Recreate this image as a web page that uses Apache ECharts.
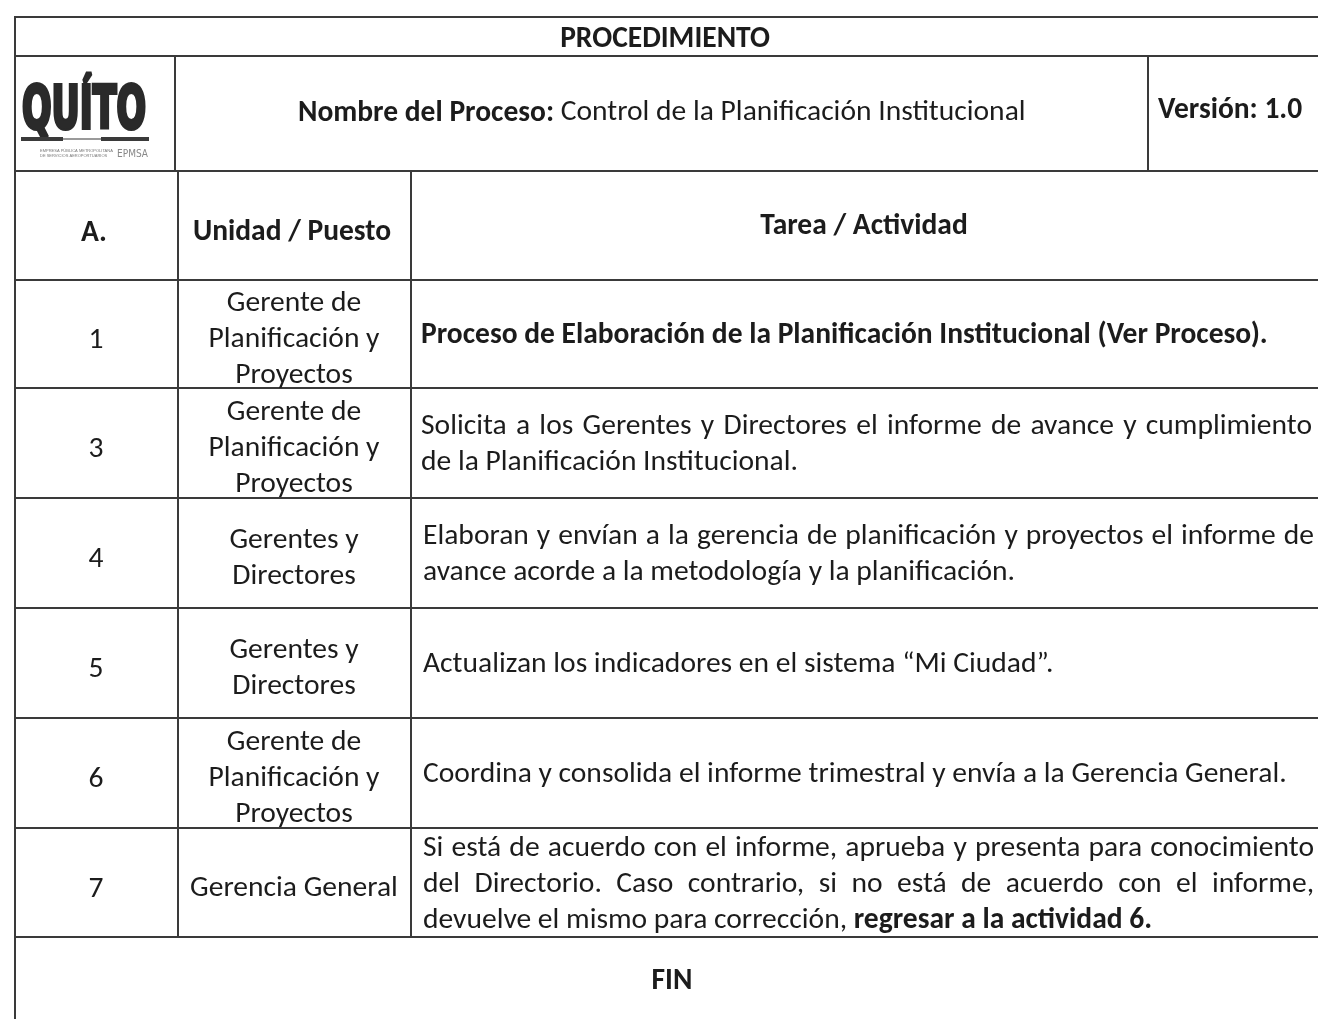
<!DOCTYPE html>
<html>
<head>
<meta charset="utf-8">
<script src="https://cdn.jsdelivr.net/npm/echarts@6/dist/echarts.min.js"></script>
<style>html,body{margin:0;padding:0;background:#fff}#c{width:1318px;height:1019px}</style>
</head>
<body>
<div id="c"></div>
<script>
// ---- content ----
const procTitle = 'PROCEDIMIENTO';
const processLabel = 'Nombre del Proceso:';
const processName = 'Control de la Planificación Institucional';
const versionLabel = 'Versión: 1.0';
const colHeaders = ['A.', 'Unidad / Puesto', 'Tarea / Actividad'];
const stepIds = ['1', '3', '4', '5', '6', '7'];
const stepUnits = [
  ['Gerente de', 'Planificación y', 'Proyectos'],
  ['Gerente de', 'Planificación y', 'Proyectos'],
  ['Gerentes y', 'Directores'],
  ['Gerentes y', 'Directores'],
  ['Gerente de', 'Planificación y', 'Proyectos'],
  ['Gerencia General']
];
const stepTasks = [
  ['**Proceso de Elaboración de la Planificación Institucional (Ver Proceso).**'],
  ['Solicita a los Gerentes y Directores el informe de avance y cumplimiento', 'de la Planificación Institucional.'],
  ['Elaboran y envían a la gerencia de planificación y proyectos el informe de', 'avance acorde a la metodología y la planificación.'],
  ['Actualizan los indicadores en el sistema “Mi Ciudad”.'],
  ['Coordina y consolida el informe trimestral y envía a la Gerencia General.'],
  ['Si está de acuerdo con el informe, aprueba y presenta para conocimiento', 'del Directorio. Caso contrario, si no está de acuerdo con el informe,', 'devuelve el mismo para corrección, **regresar a la actividad 6.**']
];
const endLabel = 'FIN';
const logoWord = 'QUÍTO';
const logoSub = ['EMPRESA PÚBLICA METROPOLITANA', 'DE SERVICIOS AEROPORTUARIOS'];
const logoTag = 'EPMSA';

// ---- layout ----
const FAMILY = 'Carlito, Lato, sans-serif';
const INK = '#1c1c1c';
const RULE = '#3a3a3a';
const ROWS = [17, 56, 171, 280, 388, 498, 608, 718, 828, 937];
const LEFT = 15, RIGHT = 1330, BOTTOM = 1030;
const X_LOGO = 175, X_VER = 1148, X_A = 178, X_UNIT = 411;
const TASK_X = 421, TASK_W = 891, LINE_H = 36, DY = 3;

const cv = document.createElement('canvas');
const ctx = cv.getContext('2d');
function measure(t, size, bold, fam) {
  ctx.font = (bold ? 'bold ' : 'normal ') + size + 'px ' + (fam || FAMILY);
  return ctx.measureText(t).width;
}
const fsR = 24 * 864 / measure(stepTasks[4][0], 24, false);
const fsB = 24 * 847 / measure(stepTasks[0][0].replace(/\*\*/g, ''), 24, true);

const els = [];
function txt(t, x, y, bold, align, extra) {
  els.push(Object.assign({
    type: 'text', silent: true,
    style: {
      text: t, x: x, y: y + DY, fill: INK,
      fontFamily: FAMILY, fontSize: bold ? fsB : fsR, fontWeight: bold ? 'bold' : 'normal',
      textAlign: align || 'left', align: align || 'left',
      textVerticalAlign: 'middle', verticalAlign: 'middle'
    }
  }, extra || {}));
}
function line(x1, y1, x2, y2, w, c) {
  els.push({ type: 'line', silent: true, shape: { x1, y1, x2, y2 }, style: { stroke: c || RULE, lineWidth: w || 2 } });
}
function parseWords(s) {
  const parts = s.split('**');
  const words = [];
  parts.forEach((p, i) => {
    p.split(' ').filter(w => w.length).forEach(w => words.push({ t: w, b: i % 2 === 1 }));
  });
  return words;
}
function textLine(s, x, y, justify) {
  const words = parseWords(s);
  const ws = words.map(w => measure(w.t, w.b ? fsB : fsR, w.b));
  const sum = ws.reduce((a, b) => a + b, 0);
  let gap = measure(' ', fsR, false);
  if (justify && words.length > 1) gap = (TASK_W - sum) / (words.length - 1);
  let cx = x;
  words.forEach((w, i) => { txt(w.t, cx, y, w.b); cx += ws[i] + gap; });
}

// rules
line(LEFT - 1, ROWS[0], RIGHT, ROWS[0]);
for (let i = 1; i < ROWS.length; i++) line(LEFT, ROWS[i], RIGHT, ROWS[i]);
line(LEFT, ROWS[0] - 1, LEFT, BOTTOM);
line(X_LOGO, ROWS[1], X_LOGO, ROWS[2]);
line(X_VER, ROWS[1], X_VER, ROWS[2]);
line(X_A, ROWS[2], X_A, ROWS[ROWS.length - 1]);
line(X_UNIT, ROWS[2], X_UNIT, ROWS[ROWS.length - 1]);

// header
txt(procTitle, 665, 37, true, 'center');
const wLab = measure(processLabel, fsB, true);
txt(processLabel, 298, 111, true);
txt(processName, 298 + wLab + measure(' ', fsR, false), 110, false);
txt(versionLabel, 1158, 108, true);
txt(colHeaders[0], 94, 231, true, 'center');
txt(colHeaders[1], 292, 230, true, 'center');
txt(colHeaders[2], 864, 224, true, 'center');

// rows
stepIds.forEach((id, r) => {
  const mid = (ROWS[3 + r] + ROWS[4 + r]) / 2;
  txt(id, 96, mid + 4, false, 'center');
  const u = stepUnits[r];
  u.forEach((s, k) => txt(s, 294, mid + 3 + (k - (u.length - 1) / 2) * LINE_H, false, 'center'));
  const t = stepTasks[r];
  t.forEach((s, k) => textLine(s, TASK_X + (r >= 2 ? 2 : 0), mid - 1 + (k - (t.length - 1) / 2) * LINE_H, k < t.length - 1));
});
txt(endLabel, 672, 979, true, 'center');

// logo
const LF = 'DejaVu Sans';
const lw = measure(logoWord, 58, true, LF);
els.push({
  type: 'text', silent: true, x: 22, y: 113, scaleX: 124 / lw, scaleY: 1,
  style: { text: logoWord, x: 0, y: 0, fill: '#2a2a2a', stroke: '#2a2a2a', lineWidth: 4,
    fontFamily: LF, fontSize: 58, fontWeight: 'bold',
    textAlign: 'left', align: 'left', textVerticalAlign: 'middle', verticalAlign: 'middle' }
});
els.push({ type: 'rect', silent: true, shape: { x: 21, y: 137, width: 42, height: 4 }, style: { fill: '#3a3a3a' } });
els.push({ type: 'rect', silent: true, shape: { x: 63, y: 138, width: 38, height: 2 }, style: { fill: '#9a9a9a' } });
els.push({ type: 'rect', silent: true, shape: { x: 101, y: 137, width: 48, height: 4 }, style: { fill: '#3a3a3a' } });
logoSub.forEach((s, k) => els.push({
  type: 'text', silent: true,
  style: { text: s, x: 40, y: 151 + k * 5, fill: '#777', fontFamily: 'Liberation Sans', fontSize: 4,
    textAlign: 'left', align: 'left', textVerticalAlign: 'middle', verticalAlign: 'middle' }
}));
const tw = measure(logoTag, 11, false, 'DejaVu Sans');
els.push({
  type: 'text', silent: true, x: 117, y: 154, scaleX: 31 / tw,
  style: { text: logoTag, x: 0, y: 0, fill: '#888', fontFamily: 'DejaVu Sans', fontSize: 11,
    textAlign: 'left', align: 'left', textVerticalAlign: 'middle', verticalAlign: 'middle' }
});

const chart = echarts.init(document.getElementById('c'), null, { renderer: 'canvas' });
chart.setOption({
  backgroundColor: '#ffffff',
  animation: false,
  graphic: { elements: els }
});
</script>
</body>
</html>
